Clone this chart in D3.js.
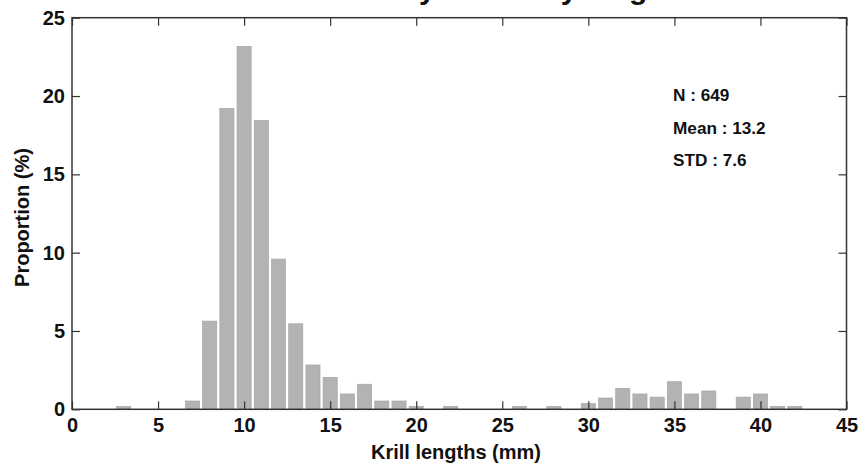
<!DOCTYPE html>
<html>
<head>
<meta charset="utf-8">
<script src="https://cdn.jsdelivr.net/npm/d3@7"></script>
<style>
  body { margin: 0; background: #fff; }
  svg { display: block; font-family: "Liberation Sans", Arial, sans-serif; }
</style>
</head>
<body>
<div id="plot1"></div>
<script>
// krill length bins (mm) and proportion of the catch in each bin (%)
const lengths = [3, 7, 8, 9, 10, 11, 12, 13, 14, 15, 16, 17, 18, 19, 20, 22, 26, 28,
                 30, 31, 32, 33, 34, 35, 36, 37, 39, 40, 41, 42];
const proportions = [0.17, 0.53, 5.63, 19.2, 23.17, 18.43, 9.59, 5.46, 2.83, 2.04, 0.98, 1.6, 0.53, 0.53, 0.19, 0.19, 0.19, 0.19,
                     0.36, 0.72, 1.34, 0.98, 0.78, 1.76, 0.98, 1.17, 0.78, 0.98, 0.19, 0.19];
const xTicks = [0, 5, 10, 15, 20, 25, 30, 35, 40, 45];
const yTicks = [0, 5, 10, 15, 20, 25];
const stats = ['N : 649', 'Mean : 13.2', 'STD : 7.6'];
const title = 'Density of krill by length';

const width = 859;
const height = 464;
const margin = {top: 17.7, bottom: 54.7, left: 72, right: 12.5};

const data = lengths.map((l, i) => ({len: l, p: proportions[i]}));

const svg = d3.select('#plot1')
    .append('svg')
    .attr('width', width)
    .attr('height', height)
    .attr('viewBox', [0, 0, width, height]);

const x = d3.scaleLinear()
    .domain([0, 45])
    .range([margin.left, width - margin.right]);

const y = d3.scaleLinear()
    .domain([0, 25])
    .range([height - margin.bottom, margin.top]);

const barW = 0.82;

svg.append('g')
    .selectAll('rect')
    .data(data)
    .join('rect')
    .attr('x', d => x(d.len - barW / 2))
    .attr('y', d => y(d.p))
    .attr('width', x(barW) - x(0))
    .attr('height', d => y(0) - y(d.p))
    .attr('fill', '#b3b3b3')
    .attr('stroke', '#a5a5a5')
    .attr('stroke-width', 0.7);

function styleAxis(g) {
    g.select('.domain').remove();
    g.selectAll('.tick line').attr('stroke', '#333').attr('stroke-width', 1.2);
    g.selectAll('.tick text')
        .attr('fill', '#111')
        .attr('font-size', '20px')
        .attr('font-weight', 'bold')
        .attr('font-family', '"Liberation Sans", Arial, sans-serif');
}

// bottom axis, ticks pointing in
svg.append('g')
    .attr('transform', `translate(0,${y(0)})`)
    .call(d3.axisBottom(x).tickValues(xTicks).tickSize(-8).tickPadding(9))
    .call(styleAxis);

// top ticks (no labels)
svg.append('g')
    .attr('transform', `translate(0,${y(25)})`)
    .call(d3.axisTop(x).tickValues(xTicks).tickSize(-8).tickFormat(''))
    .call(styleAxis);

// left axis
svg.append('g')
    .attr('transform', `translate(${x(0)},0)`)
    .call(d3.axisLeft(y).tickValues(yTicks).tickSize(-8).tickPadding(7))
    .call(styleAxis);

// right ticks
svg.append('g')
    .attr('transform', `translate(${x(45)},0)`)
    .call(d3.axisRight(y).tickValues(yTicks).tickSize(-8).tickFormat(''))
    .call(styleAxis);

// box
svg.append('rect')
    .attr('x', x(0))
    .attr('y', y(25))
    .attr('width', x(45) - x(0))
    .attr('height', y(0) - y(25))
    .attr('fill', 'none')
    .attr('stroke', '#333')
    .attr('stroke-width', 1.5);

// axis labels
svg.append('text')
    .attr('x', 456)
    .attr('y', 459)
    .attr('text-anchor', 'middle')
    .attr('font-size', '20px')
    .attr('font-weight', 'bold')
    .attr('fill', '#111')
    .text('Krill lengths (mm)');

svg.append('text')
    .attr('transform', `translate(29,${(y(0) + y(25)) / 2 + 4}) rotate(-90)`)
    .attr('text-anchor', 'middle')
    .attr('font-size', '20px')
    .attr('font-weight', 'bold')
    .attr('fill', '#111')
    .text('Proportion (%)');

// stats box text
svg.append('g')
    .selectAll('text')
    .data(stats)
    .join('text')
    .attr('x', 673)
    .attr('y', (d, i) => 101 + i * 32.5)
    .attr('font-size', '17.2px')
    .attr('font-weight', 'bold')
    .attr('fill', '#111')
    .text(d => d);

// title, mostly cut off at the top edge as in the source figure
const t = svg.append('text')
    .attr('x', 0)
    .attr('y', -1)
    .attr('font-size', '30px')
    .attr('font-weight', 'bold')
    .attr('fill', '#111')
    .text(title);
const yStart = t.node().getStartPositionOfChar(6).x;
t.attr('x', 419 - yStart);

svg.node();
</script>
</body>
</html>
